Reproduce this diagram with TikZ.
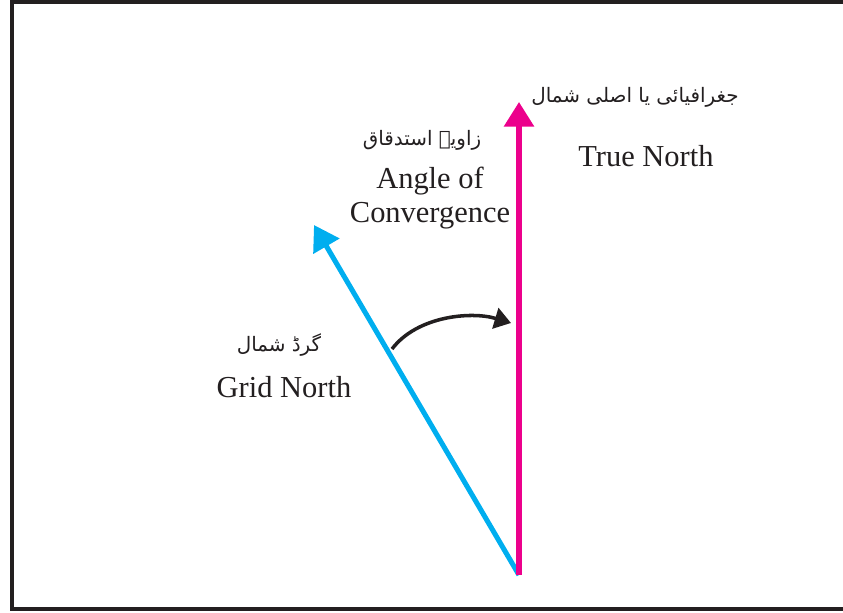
\documentclass[tikz,border=0pt]{standalone}
\usepackage{fontspec}
\setmainfont{Liberation Serif}
\newfontfamily\urdufont[Script=Arabic]{DejaVu Sans}
\TeXXeTstate=1
\usetikzlibrary{arrows.meta,positioning}
\definecolor{truemag}{RGB}{236,0,140}
\definecolor{gridblue}{RGB}{0,174,239}
\definecolor{inkblack}{RGB}{35,31,32}

\begin{document}
\begin{tikzpicture}[x=0.03cm, y=-0.03cm,
    engtext/.style={font=\fontsize{26}{29}\selectfont, text=inkblack, inner sep=0pt, align=center},
    urdu/.style={font=\urdufont\fontsize{17}{20}\selectfont, text=inkblack, inner sep=0pt},
    north/.style={line width=4.3pt, -{Triangle[length=21pt,width=25pt]}},
    turn/.style={line width=3pt, inkblack, -{Triangle[length=14pt,width=18pt]}}]

\useasboundingbox (0,0) rectangle (843,612);
\draw[inkblack, line width=2.6pt] (12,2) rectangle (860,609);

\coordinate (O) at (519,575);
\coordinate (tn) at (519,102);
\coordinate (gn) at (314,225);
\coordinate (arcstart) at (392,349);
\coordinate (arcend) at (511,323);

% labels
\node[urdu] (tnur) at (635,97) {\beginR جغرافیائی یا اصلی شمال\endR};
\node[engtext] (tnen) at (646,156) {True North};
\node[urdu] (convur) at (422,140) {\beginR زاویہ استدقاق\endR};
\node[engtext] (conven) at (430,198) {Angle of\\Convergence};
\node[urdu] (gnur) at (279,345) {\beginR گرڈ شمال\endR};
\node[engtext] (gnen) at (284,387) {Grid North};

% directions
\draw[north, gridblue] (O) -- (gn);
\draw[north, truemag] (O) -- (tn);
\draw[turn] (arcstart) .. controls +(25,-33) and +(-40,-12) .. (arcend);

\end{tikzpicture}
\end{document}
